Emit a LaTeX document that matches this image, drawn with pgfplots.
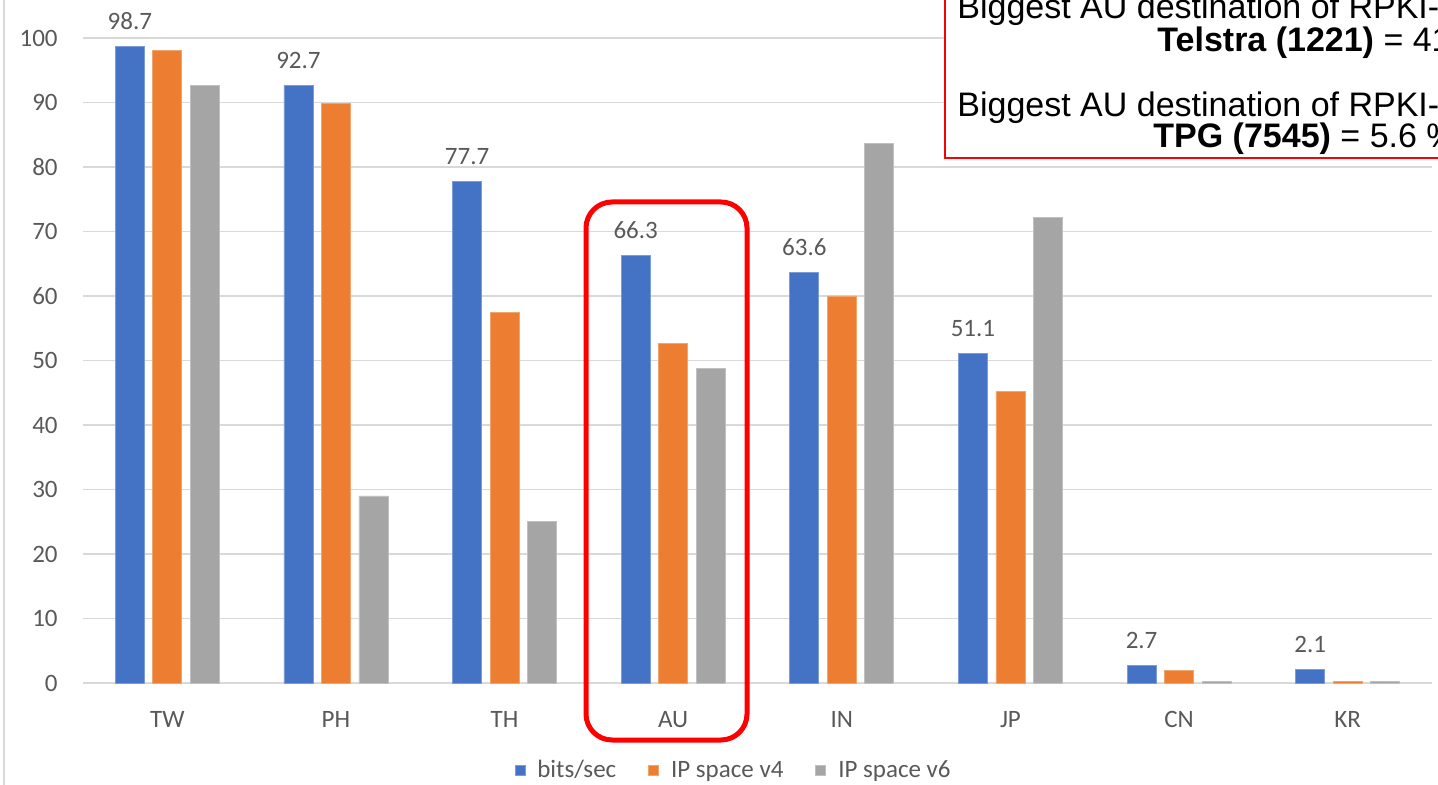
\documentclass[border=0pt]{standalone}
\usepackage{pgfplots}
\pgfplotsset{compat=1.18}
\usepackage{fontspec}
\setmainfont{Carlito}
\newfontfamily\arialfont{Liberation Sans}

\definecolor{barblue}{HTML}{4472C4}
\definecolor{barorange}{HTML}{ED7D31}
\definecolor{bargray}{HTML}{A5A5A5}
\definecolor{gridgray}{HTML}{D9D9D9}
\definecolor{textgray}{HTML}{595959}
\definecolor{alertred}{HTML}{FF0000}

\begin{document}
\begin{tikzpicture}
\begin{axis}[
  scale only axis,
  width=674.5pt, height=322.5pt,
  at={(41.5pt,-341.5pt)}, anchor=south west,
  xmin=-0.5, xmax=7.5,
  ymin=0, ymax=100,
  ytick={0,10,...,100},
  xtick={0,...,7},
  xticklabels={TW,PH,TH,AU,IN,JP,CN,KR},
  ybar=4.25pt, bar width=14.5pt,
  axis line style={draw=none},
  major tick length=0pt,
  ymajorgrids,
  grid style={gridgray, line width=0.75pt},
  clip=false,
  font=\fontsize{12.5}{15}\selectfont,
  /pgf/number format/assume math mode=true,
  ticklabel style={text=textgray},
  yticklabel style={anchor=east, inner sep=0pt, xshift=-12.5pt},
  xticklabel style={anchor=base, inner sep=0pt, yshift=-22pt},
  legend columns=3,
  legend style={
    at={(0.483,-0.136)}, anchor=center,
    draw=none, fill=none,
    font=\fontsize{12.5}{15}\selectfont, text=textgray,
    /tikz/every odd column/.append style={column sep=4pt},
    /tikz/every even column/.append style={column sep=14pt},
  },
  legend image code/.code={\fill[#1] (0pt,-2.5pt) rectangle (5pt,2.5pt);},
]
% bits/sec, with its values printed above the bars
\addplot[fill=barblue, draw=barblue!70!white, line width=0.4pt,
  nodes near coords={\pgfmathprintnumber[fixed,precision=1,fixed zerofill]{\pgfplotspointmeta}},
  every node near coord/.append style={anchor=base, yshift=8.5pt, text=textgray,
    font=\fontsize{12.5}{15}\selectfont},
] table {
x y
0 98.7
1 92.7
2 77.7
3 66.3
4 63.6
5 51.1
6 2.7
7 2.1
};
\addlegendentry{bits/sec}
% IPv4 address space
\addplot[fill=barorange, draw=barorange!70!white, line width=0.4pt] table {
x y
0 98.0
1 89.8
2 57.4
3 52.7
4 60.0
5 45.2
6 2.0
7 0.2
};
\addlegendentry{IP space v4}
% IPv6 address space
\addplot[fill=bargray, draw=bargray!70!white, line width=0.4pt] table {
x y
0 92.7
1 29.0
2 25.1
3 48.7
4 83.6
5 72.2
6 0.3
7 0.3
};
\addlegendentry{IP space v6}
\end{axis}

\begin{scope}[x=0.5pt, y=-0.5pt]
  % chart frame edge
  \draw[gridgray, line width=1pt] (4,0) -- (4,785);
  % highlight around AU
  \draw[alertred, line width=2.5pt, rounded corners=13pt] (586,202) rectangle (747,740);
  % annotation box
  \begin{scope}
    \clip (0,0) rectangle (1438,785);
    \draw[alertred, line width=1.1pt, fill=white] (945,-20) rectangle (1520,158);
    \begin{scope}[every node/.style={anchor=base west, inner sep=0pt,
        font=\arialfont\fontsize{17}{20}\selectfont}]
      \node at (957,19) {Biggest AU destination of RPKI-};
      \node at (1157,52) {\textbf{Telstra (1221)} = 41};
      \node at (957,117) {Biggest AU destination of RPKI-};
      \node at (1153,148) {\textbf{TPG (7545)} = 5.6 \%};
    \end{scope}
  \end{scope}
\end{scope}

\pgfresetboundingbox
\path[use as bounding box] (0pt,0pt) rectangle (719pt,-392.5pt);
\end{tikzpicture}
\end{document}
